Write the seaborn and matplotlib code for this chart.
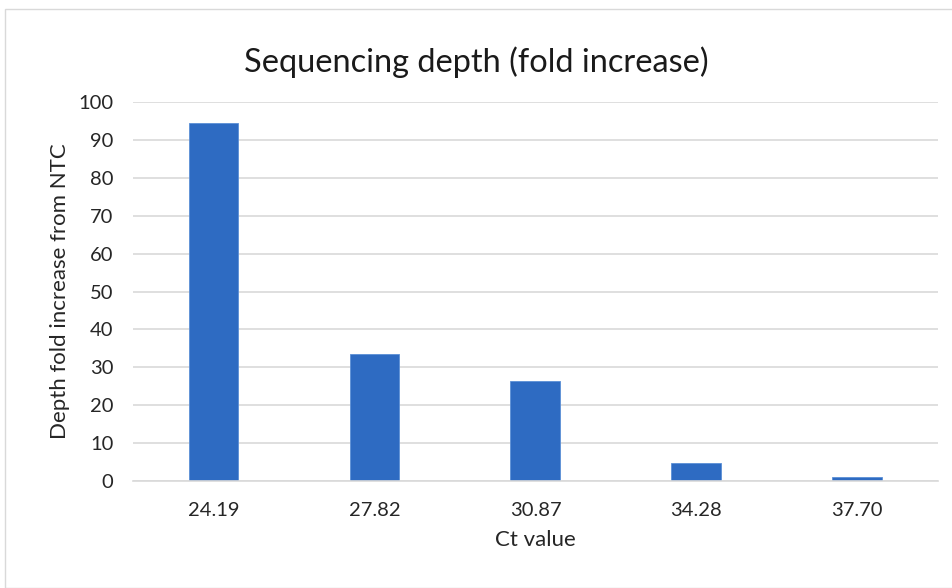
import matplotlib
matplotlib.use("Agg")
import matplotlib.pyplot as plt
import seaborn as sns
import pandas as pd
from matplotlib.patches import Rectangle

ct_values = ["24.19", "27.82", "30.87", "34.28", "37.70"]
fold_increase = [94.5, 33.4, 26.3, 4.7, 1.1]
y_ticks = [0, 10, 20, 30, 40, 50, 60, 70, 80, 90, 100]

df = pd.DataFrame({"Ct value": ct_values, "fold": fold_increase})

sns.set_theme(style="white")
plt.rcParams['font.family'] = ['Lato', 'DejaVu Sans']

fig = plt.figure(figsize=(9.53, 5.88), dpi=100)
ax = fig.add_axes([0.1396, 0.182, 0.8445, 0.6445])

sns.barplot(data=df, x="Ct value", y="fold", color="#2E6BC2", saturation=1,
            width=0.31, ax=ax, edgecolor="#5B8FD6", linewidth=0.6)

ax.set_ylim(0, 100)
ax.set_xlim(-0.5, 4.5)
ax.set_yticks(y_ticks)
ax.yaxis.grid(True, color="#D9D9D9", linewidth=1.2)
ax.set_axisbelow(True)
for s in ["top", "right", "left"]:
    ax.spines[s].set_visible(False)
ax.spines["bottom"].set_color("#D9D9D9")
ax.spines["bottom"].set_linewidth(1.2)
ax.tick_params(axis="both", length=0, labelsize=14.5, labelcolor="#262626")
ax.tick_params(axis="y", pad=14)
ax.tick_params(axis="x", pad=15)
ax.set_xlabel("Ct value", fontsize=16, color="#262626", labelpad=8)
ax.set_ylabel("Depth fold increase from NTC", fontsize=16, color="#262626", labelpad=6)
fig.text(0.5, 0.895, "Sequencing depth (fold increase)", ha="center", va="center",
         fontsize=23.4, color="#1a1a1a")

fig.patches.append(Rectangle((5/953, 0.0), 1.0, 1 - 9/588, transform=fig.transFigure,
                             fill=False, edgecolor="#D9D9D9", linewidth=1.0))

fig.savefig("out.png", dpi=100)
